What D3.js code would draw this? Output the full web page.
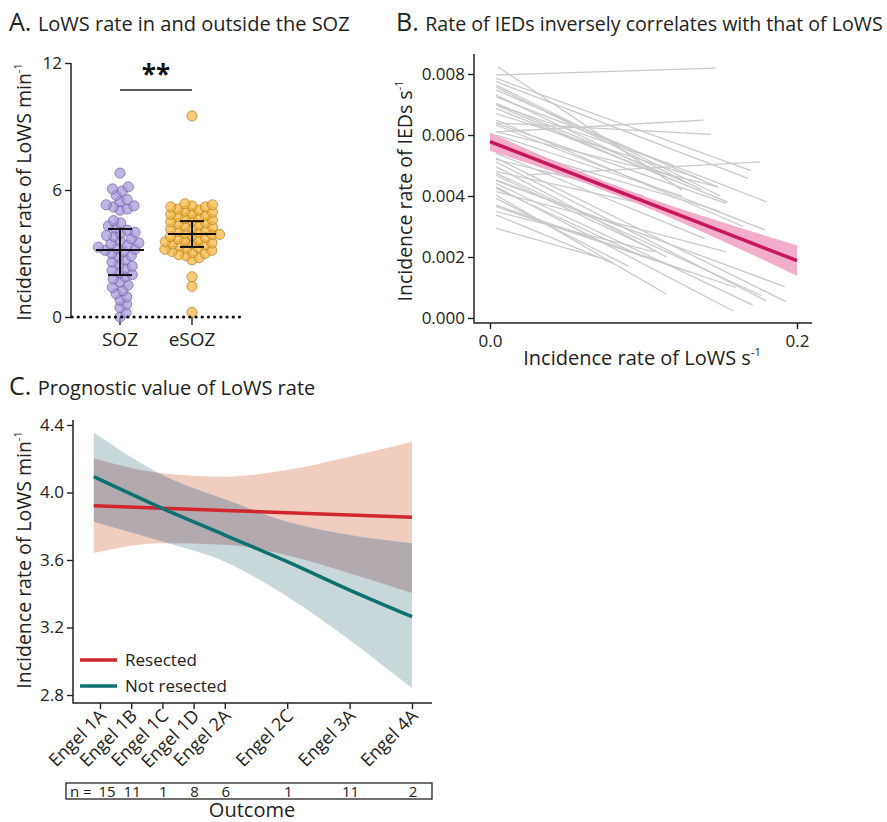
<!DOCTYPE html>
<html>
<head>
<meta charset="utf-8">
<script src="https://cdn.jsdelivr.net/npm/d3@7"></script>
<style>
body { margin: 0; background: #fff; }
svg { font-family: "Open Sans", sans-serif; }
</style>
</head>
<body>
<div id="app"></div>
<script>
// ---- panel A data: LoWS rate per channel group
var groupsA = ["SOZ", "eSOZ"];
var sozRates = [6.8, 6.15, 6.05, 5.95, 5.75, 5.55, 5.45, 5.3, 5.25, 5.2, 5.1, 5.05,
  4.55, 4.45, 4.3, 4.2, 4.1, 4.0, 3.95, 3.85, 3.8, 3.7, 3.6, 3.5, 3.45, 3.4, 3.3,
  3.25, 3.2, 3.15, 3.1, 3.0, 2.9, 2.85, 2.7, 2.6, 2.5, 2.4, 2.3, 2.2, 2.1, 2.0, 1.9,
  1.8, 1.65, 1.5, 1.4, 1.25, 1.1, 0.95, 0.8, 0.6, 0.45, 0.2, 0.0];
var esozRates = [9.5, 5.35, 5.3, 5.25, 5.2, 5.2, 5.1, 5.05, 5.0, 4.95, 4.9, 4.85, 4.8,
  4.75, 4.7, 4.65, 4.6, 4.55, 4.5, 4.45, 4.4, 4.35, 4.3, 4.25, 4.2, 4.15, 4.1, 4.05,
  4.0, 3.95, 3.9, 3.9, 3.85, 3.8, 3.75, 3.7, 3.65, 3.6, 3.55, 3.5, 3.5, 3.45, 3.4,
  3.35, 3.3, 3.25, 3.2, 3.15, 3.1, 3.05, 3.0, 2.95, 2.9, 2.8, 2.7, 1.9, 1.45, 0.22];
var mediansA = [3.17, 3.92];
var lowerA = [1.98, 3.31];
var upperA = [4.16, 4.53];
var ticksA = [0, 6, 12];

// ---- panel B data: per-patient fits (start x, start y, end x, end y)
var patX0 = [0.005, 0.004, 0.004, 0.004, 0.004, 0.004, 0.004, 0.004, 0.004, 0.004, 0.004, 0.004,
  0.004, 0.004, 0.004, 0.004, 0.024, 0.004, 0.004, 0.004, 0.004, 0.004, 0.004, 0.004,
  0.004, 0.004, 0.004, 0.004, 0.004, 0.004, 0.004, 0.004, 0.004, 0.004, 0.004, 0.004,
  0.004, 0.004, 0.004, 0.004, 0.004, 0.004, 0.004, 0.004];
var patY0 = [0.00824, 0.00797, 0.00786, 0.00775, 0.00764, 0.00758, 0.00748, 0.00731, 0.00725,
  0.00704, 0.00698, 0.00687, 0.0061, 0.0064, 0.00649, 0.00638, 0.00469, 0.00611, 0.0054,
  0.00524, 0.00512, 0.00496, 0.00474, 0.00468, 0.00452, 0.00441, 0.0043, 0.00425, 0.00414,
  0.00403, 0.00392, 0.0037, 0.00365, 0.00349, 0.00338, 0.00294, 0.0070, 0.0067, 0.0060,
  0.0057, 0.0052, 0.0048, 0.0045, 0.00632];
var patX1 = [0.125, 0.147, 0.170, 0.168, 0.150, 0.138, 0.148, 0.120, 0.180, 0.130, 0.110, 0.155,
  0.139, 0.144, 0.165, 0.154, 0.176, 0.1487, 0.140, 0.193, 0.180, 0.115, 0.177, 0.108,
  0.192, 0.171, 0.1585, 0.100, 0.154, 0.115, 0.090, 0.160, 0.130, 0.107, 0.080, 0.070,
  0.120, 0.135, 0.125, 0.150, 0.100, 0.095, 0.085, 0.179];
var patY1 = [0.0042, 0.00819, 0.00483, 0.00458, 0.0040, 0.0042, 0.0043, 0.0045, 0.00381,
  0.0044, 0.0047, 0.0038, 0.00649, 0.00602, 0.0030, 0.00376, 0.00512, 0.0043, 0.0026,
  0.00053, 0.00056, 0.0020, 0.00073, 0.0022, 0.00103, 0.00043, 0.00023, 0.0020, 0.00217,
  0.00078, 0.0017, 0.0010, 0.0015, 0.00217, 0.0018, 0.0020, 0.0050, 0.0046, 0.0040,
  0.0035, 0.0040, 0.0038, 0.0030, 0.00289];
var fitX = [0, 0.05, 0.1, 0.15, 0.2];
var fitY = [0.00578, 0.00481, 0.00383, 0.00286, 0.00188];
var fitLo = [0.00548, 0.00464, 0.00366, 0.00256, 0.00138];
var fitHi = [0.00608, 0.00498, 0.00400, 0.00316, 0.00238];
var iedTicks = [0, 0.002, 0.004, 0.006, 0.008];
var lowsTicks = [0, 0.2];

// ---- panel C data: outcome model
var engelLabels = ["Engel 1A", "Engel 1B", "Engel 1C", "Engel 1D", "Engel 2A", "Engel 2C", "Engel 3A", "Engel 4A"];
var engelPos = [0, 1, 2, 3, 4, 6, 8, 10];
var engelN = [15, 11, 1, 8, 6, 1, 11, 2];
var curveX = [-0.2, 2, 4, 6, 8, 10];
var resY = [3.922, 3.907, 3.894, 3.880, 3.866, 3.853];
var resLo = [3.641, 3.699, 3.691, 3.628, 3.521, 3.404];
var resHi = [4.202, 4.114, 4.094, 4.133, 4.212, 4.301];
var notY = [4.094, 3.906, 3.748, 3.590, 3.422, 3.264];
var notLo = [3.827, 3.709, 3.590, 3.383, 3.126, 2.840];
var notHi = [4.355, 4.104, 3.960, 3.827, 3.748, 3.699];
var ticksC = [2.8, 3.2, 3.6, 4.0, 4.4];

var ink = "#222";

var svg = d3.select("#app").append("svg")
  .attr("width", 887)
  .attr("height", 822);

function title(x, y, letter, text, size) {
  var t = svg.append("text").attr("x", x).attr("y", y).attr("fill", ink);
  t.append("tspan").attr("font-size", 25).text(letter + " ");
  t.append("tspan").attr("font-size", size).text(text);
}

function yTitle(x, y, text, unit) {
  var t = svg.append("text")
    .attr("transform", "translate(" + x + "," + y + ") rotate(-90)")
    .attr("text-anchor", "middle")
    .attr("font-size", 19.5)
    .attr("fill", ink);
  t.append("tspan").text(text);
  t.append("tspan").attr("font-size", 11).attr("dy", -9).text("-1");
}

function leftTicks(scale, ticks, x0, fmt) {
  var g = svg.append("g").attr("transform", "translate(" + x0 + ",0)");
  g.call(d3.axisLeft(scale).tickValues(ticks).tickSize(6).tickSizeOuter(0).tickFormat(fmt));
  g.select(".domain").remove();
  g.selectAll("line").attr("stroke", ink).attr("stroke-width", 1.4);
  g.selectAll("text").attr("font-size", 17).attr("fill", ink).attr("font-family", "Open Sans");
  return g;
}

// ===================== A =====================
title(9, 31, "A.", "LoWS rate in and outside the SOZ", 20);

var yA = d3.scaleLinear().domain([0, 12]).range([317, 63]);
var xA = d3.scalePoint().domain(groupsA).range([120, 192]);

svg.append("line").attr("x1", 71).attr("x2", 71).attr("y1", 63).attr("y2", 317)
  .attr("stroke", ink).attr("stroke-width", 1.5);
leftTicks(yA, ticksA, 71, d3.format("d"));
yTitle(31, 192, "Incidence rate of LoWS min");

// x ticks under dotted zero line
xA.domain().forEach(function (g) {
  svg.append("line").attr("x1", xA(g)).attr("x2", xA(g)).attr("y1", 317).attr("y2", 325)
    .attr("stroke", ink).attr("stroke-width", 1.4);
  svg.append("text").attr("x", xA(g)).attr("y", 346).attr("text-anchor", "middle")
    .attr("font-size", 19).attr("fill", ink).text(g);
});

function swarm(values, cx, minD) {
  var placed = [];
  var out = [];
  var order = values.map(function (v, i) { return i; })
    .sort(function (a, b) { return values[a] - values[b]; });
  order.forEach(function (i) {
    var y = yA(values[i]);
    var cands = [0];
    placed.forEach(function (p) {
      var dy = Math.abs(p.y - y);
      if (dy < minD) {
        var dx = Math.sqrt(minD * minD - dy * dy);
        cands.push(p.x + dx, p.x - dx);
      }
    });
    cands.sort(function (a, b) { return Math.abs(a) - Math.abs(b); });
    var x = cands.find(function (c) {
      return placed.every(function (p) {
        return (p.x - c) * (p.x - c) + (p.y - y) * (p.y - y) >= minD * minD - 0.01;
      });
    });
    placed.push({ x: x, y: y });
    out.push({ x: cx + x, y: y });
  });
  return out;
}

var dotsA = [
  { pts: swarm(sozRates, xA("SOZ"), 7.4), fill: "#a596d6", stroke: "#6a5ca8" },
  { pts: swarm(esozRates, xA("eSOZ"), 7.4), fill: "#f6b43a", stroke: "#a87c22" }
];
dotsA.forEach(function (d) {
  svg.append("g").selectAll("circle").data(d.pts).enter().append("circle")
    .attr("cx", function (p) { return p.x; })
    .attr("cy", function (p) { return p.y; })
    .attr("r", 5.1)
    .attr("fill", d.fill)
    .attr("fill-opacity", 0.7)
    .attr("stroke", d.stroke)
    .attr("stroke-opacity", 0.75)
    .attr("stroke-width", 0.9);
});

// dotted zero line drawn over the dots
svg.append("line").attr("x1", 72).attr("x2", 242).attr("y1", 317).attr("y2", 317)
  .attr("stroke", "#111").attr("stroke-width", 3.2).attr("stroke-linecap", "round")
  .attr("stroke-dasharray", "0.1,6.1");

// median and IQR
groupsA.forEach(function (g, i) {
  var cx = xA(g);
  var eb = svg.append("g").attr("stroke", "#111").attr("stroke-width", 2);
  eb.append("line").attr("x1", cx - 24).attr("x2", cx + 24).attr("y1", yA(mediansA[i])).attr("y2", yA(mediansA[i]));
  eb.append("line").attr("x1", cx).attr("x2", cx).attr("y1", yA(lowerA[i])).attr("y2", yA(upperA[i]));
  eb.append("line").attr("x1", cx - 12).attr("x2", cx + 12).attr("y1", yA(lowerA[i])).attr("y2", yA(lowerA[i]));
  eb.append("line").attr("x1", cx - 12).attr("x2", cx + 12).attr("y1", yA(upperA[i])).attr("y2", yA(upperA[i]));
});

// significance
svg.append("line").attr("x1", xA("SOZ")).attr("x2", xA("eSOZ")).attr("y1", 90).attr("y2", 90)
  .attr("stroke", ink).attr("stroke-width", 1.3);
svg.append("text").attr("x", (xA("SOZ") + xA("eSOZ")) / 2).attr("y", 84)
  .attr("text-anchor", "middle").attr("font-size", 26).attr("font-weight", "bold")
  .attr("fill", "#111").text("**");

// ===================== B =====================
title(396, 31, "B.", "Rate of IEDs inversely correlates with that of LoWS", 19.6);

var xB = d3.scaleLinear().domain([0, 0.2]).range([490, 797]);
var yB = d3.scaleLinear().domain([0, 0.008]).range([318, 74]);

svg.append("path").attr("d", "M474,54V323H812").attr("fill", "none")
  .attr("stroke", ink).attr("stroke-width", 1.5);
leftTicks(yB, iedTicks, 474, d3.format(".3f"));
var gxB = svg.append("g").attr("transform", "translate(0,323)");
gxB.call(d3.axisBottom(xB).tickValues(lowsTicks).tickSize(6).tickFormat(d3.format(".1f")));
gxB.select(".domain").remove();
gxB.selectAll("line").attr("stroke", ink).attr("stroke-width", 1.4);
gxB.selectAll("text").attr("font-size", 17).attr("fill", ink).attr("font-family", "Open Sans").attr("dy", "0.9em");

yTitle(412, 191, "Incidence rate of IEDs s");
var xtB = svg.append("text").attr("x", 642).attr("y", 365).attr("text-anchor", "middle")
  .attr("font-size", 20).attr("fill", ink);
xtB.append("tspan").text("Incidence rate of LoWS s");
xtB.append("tspan").attr("font-size", 11).attr("dy", -9).text("-1");

svg.append("g").selectAll("line").data(patX0).enter().append("line")
  .attr("x1", function (d) { return xB(d); })
  .attr("y1", function (d, i) { return yB(patY0[i]); })
  .attr("x2", function (d, i) { return xB(patX1[i]); })
  .attr("y2", function (d, i) { return yB(patY1[i]); })
  .attr("stroke", "#c9c9c9")
  .attr("stroke-width", 1.3);

var fitRows = fitX.map(function (x, i) { return { x: x, y: fitY[i], lo: fitLo[i], hi: fitHi[i] }; });
svg.append("path").datum(fitRows)
  .attr("d", d3.area().curve(d3.curveMonotoneX)
    .x(function (d) { return xB(d.x); })
    .y0(function (d) { return yB(d.lo); })
    .y1(function (d) { return yB(d.hi); }))
  .attr("fill", "#f3a3c5").attr("fill-opacity", 0.9);
svg.append("path").datum(fitRows)
  .attr("d", d3.line().x(function (d) { return xB(d.x); }).y(function (d) { return yB(d.y); }))
  .attr("fill", "none").attr("stroke", "#c7175c").attr("stroke-width", 3.5);

// ===================== C =====================
title(9, 395, "C.", "Prognostic value of LoWS rate", 20);

var xC = d3.scaleLinear().domain([0, 10]).range([100, 412]);
var yC = d3.scaleLinear().domain([2.8, 4.4]).range([695, 425]);

function band(lo, hi) {
  var rows = curveX.map(function (x, i) { return { x: x, lo: lo[i], hi: hi[i] }; });
  return d3.area().curve(d3.curveMonotoneX)
    .x(function (d) { return xC(d.x); })
    .y0(function (d) { return yC(d.lo); })
    .y1(function (d) { return yC(d.hi); })(rows);
}
function curve(ys) {
  var rows = curveX.map(function (x, i) { return { x: x, y: ys[i] }; });
  return d3.line().curve(d3.curveMonotoneX)
    .x(function (d) { return xC(d.x); })
    .y(function (d) { return yC(d.y); })(rows);
}

svg.append("clipPath").attr("id", "resClip").append("path").attr("d", band(resLo, resHi));
svg.append("path").attr("d", band(resLo, resHi)).attr("fill", "#f0cdbf");
svg.append("path").attr("d", band(notLo, notHi)).attr("fill", "#c8d7d9");
// where both confidence bands overlap
svg.append("path").attr("d", band(notLo, notHi)).attr("fill", "#b3aaaf").attr("clip-path", "url(#resClip)");
svg.append("path").attr("d", curve(resY)).attr("fill", "none").attr("stroke", "#d0262e").attr("stroke-width", 3.5);
svg.append("path").attr("d", curve(notY)).attr("fill", "none").attr("stroke", "#0f7071").attr("stroke-width", 3.5);

svg.append("path").attr("d", "M73,420V703H432").attr("fill", "none")
  .attr("stroke", ink).attr("stroke-width", 1.5);
leftTicks(yC, ticksC, 73, d3.format(".1f"));
yTitle(31, 560, "Incidence rate of LoWS min");

var gxC = svg.append("g").attr("transform", "translate(0,703)");
gxC.call(d3.axisBottom(xC).tickValues(engelPos).tickSize(6).tickFormat(""));
gxC.select(".domain").remove();
gxC.selectAll("line").attr("stroke", ink).attr("stroke-width", 1.4);

svg.append("g").selectAll("text").data(engelLabels).enter().append("text")
  .attr("transform", function (d, i) { return "translate(" + (xC(engelPos[i]) + 7) + ",717) rotate(-45)"; })
  .attr("text-anchor", "end")
  .attr("font-size", 18)
  .attr("fill", ink)
  .text(function (d) { return d; });

// legend
var legC = [{ name: "Resected", color: "#d0262e", y: 660 }, { name: "Not resected", color: "#0f7071", y: 686 }];
legC.forEach(function (l) {
  svg.append("line").attr("x1", 80).attr("x2", 117).attr("y1", l.y).attr("y2", l.y)
    .attr("stroke", l.color).attr("stroke-width", 3.5);
  svg.append("text").attr("x", 125).attr("y", l.y + 6).attr("font-size", 17).attr("fill", ink).text(l.name);
});

// n table
svg.append("rect").attr("x", 66).attr("y", 783).attr("width", 366).attr("height", 16)
  .attr("fill", "none").attr("stroke", ink).attr("stroke-width", 1.3);
svg.append("text").attr("x", 70).attr("y", 796.5).attr("font-size", 15).attr("fill", ink).text("n =");
svg.append("g").selectAll("text").data(engelN).enter().append("text")
  .attr("x", function (d, i) { return xC(engelPos[i]) + (i === 0 ? 7 : 1); })
  .attr("y", 796.5)
  .attr("text-anchor", "middle")
  .attr("font-size", 15)
  .attr("fill", ink)
  .text(function (d) { return d; });
svg.append("text").attr("x", 252).attr("y", 817).attr("text-anchor", "middle")
  .attr("font-size", 20).attr("fill", ink).text("Outcome");
</script>
</body>
</html>
